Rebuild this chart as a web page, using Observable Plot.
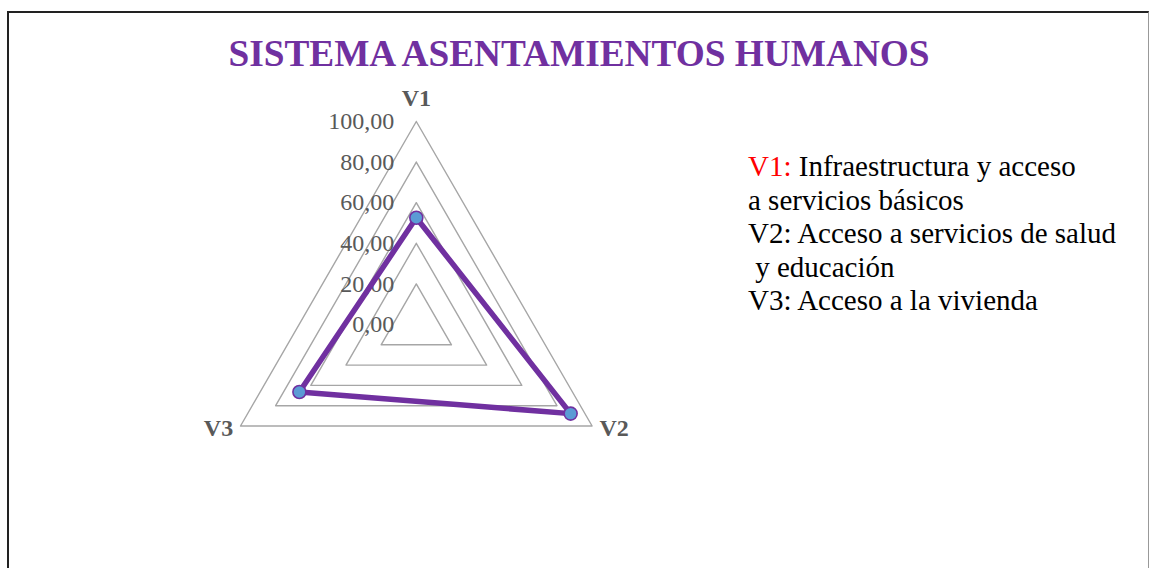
<!DOCTYPE html>
<html><head><meta charset="utf-8">
<script src="https://cdn.jsdelivr.net/npm/d3@7"></script>
<script src="https://cdn.jsdelivr.net/npm/@observablehq/plot@0.6"></script>
<style>
html,body{margin:0;padding:0;background:#fff;}
body{width:1149px;height:568px;overflow:hidden;position:relative;font-family:"Liberation Serif","Times New Roman",serif;}
#frame{position:absolute;left:7px;top:11px;width:1139px;height:620px;border-top:2px solid #222;border-left:2px solid #222;border-right:1px solid #999;}
#title{position:absolute;left:0;top:35px;width:1158px;text-align:center;font-size:37.3px;line-height:37px;font-weight:bold;color:#7030A0;white-space:nowrap;}
#legend{position:absolute;left:748px;top:150px;font-size:29px;line-height:33.5px;color:#000;white-space:pre;}
#legend .red{color:#FF0000;}
#chart{position:absolute;left:0;top:80px;}
</style></head><body>
<div id="frame"></div>
<div id="title"></div>
<div id="legend"></div>
<div id="chart"></div>
<script>
// ---- data ----
const categories = ["V1", "V2", "V3"];
const values = [52.6, 87.8, 66.5];
const gridLevels = [20, 40, 60, 80, 100];
const tickValues = [0, 20, 40, 60, 80, 100];
const tickLabels = ["0,00", "20,00", "40,00", "60,00", "80,00", "100,00"];
const titleText = "SISTEMA ASENTAMIENTOS HUMANOS";
const legendKeys = ["V1:", "", "V2:", "", "V3:"];
const legendTexts = [" Infraestructura y acceso", "a servicios básicos", " Acceso a servicios de salud", " y educación", " Acceso a la vivienda"];

// ---- html text ----
document.getElementById("title").textContent = titleText;
const leg = d3.select("#legend");
legendTexts.forEach((t, i) => {
  const line = leg.append("div");
  if (legendKeys[i]) line.append("span").attr("class", i === 0 ? "red" : null).text(legendKeys[i]);
  line.append("span").text(t);
});

// ---- radar geometry ----
const W = 700, H = 400, cx = 415.8, cy = 244, k = 2.03;
const n = categories.length;
const angle = i => (2 * Math.PI * i) / n;
const pt = (r, i) => ({x: r * Math.sin(angle(i)), y: r * Math.cos(angle(i))});
const maxLevel = d3.max(gridLevels);

const gridData = gridLevels.flatMap(level =>
  [0, 1, 2, 0].map(i => ({level, ...pt(level, i)})));
const seriesData = [0, 1, 2, 0].map(i => ({cat: categories[i], ...pt(values[i], i)}));
const pointData = categories.map((c, i) => ({cat: c, ...pt(values[i], i)}));
const tickData = tickValues.map((v, i) => ({x: 0, y: v, label: tickLabels[i]}));

// label offsets (pixels) from each outer vertex
const labelOffset = i => i === 0 ? {dx: 0, dy: -23.5} : {dx: Math.sign(Math.sin(angle(i))) * 22, dy: 2};

const chart = Plot.plot({
  width: W, height: H, margin: 0,
  style: {background: "transparent", overflow: "visible"},
  x: {type: "linear", domain: [-cx / k, (W - cx) / k], range: [0, W], axis: null},
  y: {type: "linear", domain: [-(H - cy) / k, cy / k], range: [H, 0], axis: null},
  marks: [
    Plot.line(gridData, {x: "x", y: "y", z: "level", stroke: "#A6A6A6", strokeWidth: 1.4}),
    Plot.text(tickData, {x: "x", y: "y", text: "label", textAnchor: "end", dx: -22,
      fontFamily: "Liberation Serif", fontSize: 24, fill: "#595959"}),
    Plot.line(seriesData, {x: "x", y: "y", stroke: "#7030A0", strokeWidth: 5.5, strokeLinejoin: "round", curve: "linear"}),
    Plot.dot(pointData, {x: "x", y: "y", r: 6.5, fill: "#5B9BD5", stroke: "#7030A0", strokeWidth: 1.6}),
    ...categories.map((c, i) => Plot.text([{cat: c, ...pt(maxLevel, i)}], {
      x: "x", y: "y", text: "cat", ...labelOffset(i), fontFamily: "Liberation Serif",
      fontSize: 24, fontWeight: "bold", fill: "#595959"}))
  ]
});
document.getElementById("chart").appendChild(chart);
</script>
</body></html>
